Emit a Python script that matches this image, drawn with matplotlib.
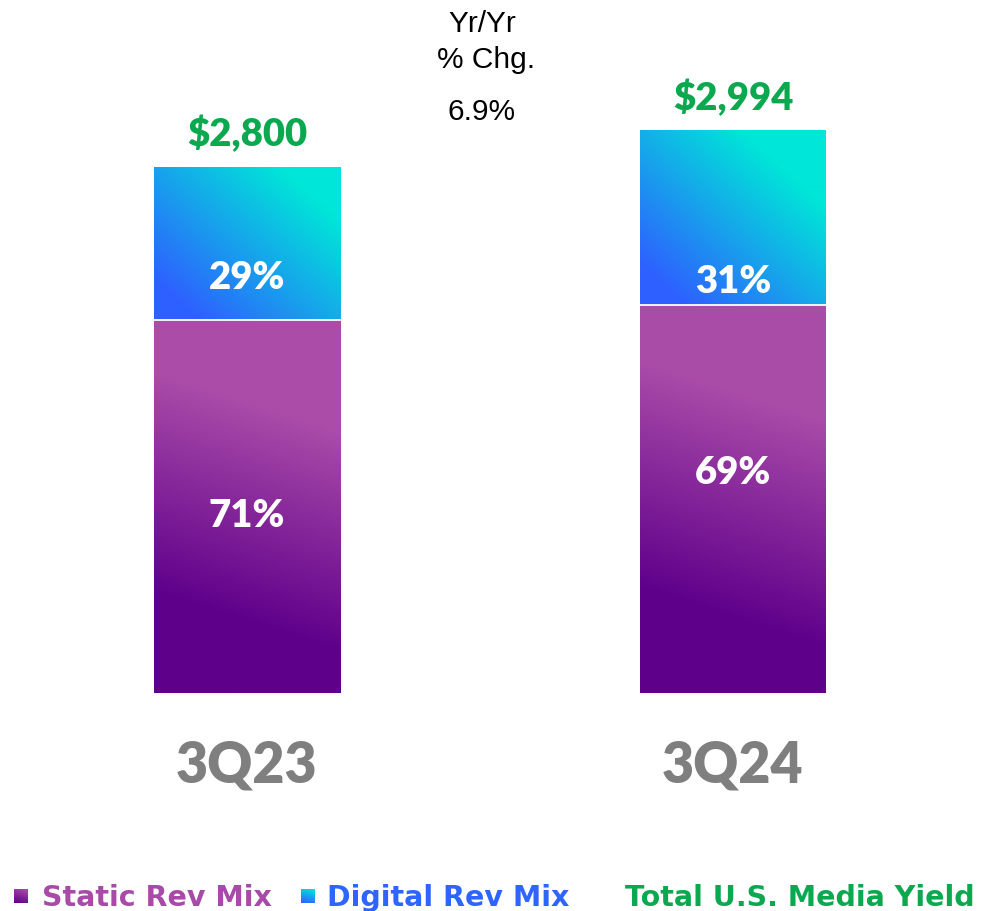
import numpy as np
import matplotlib
matplotlib.use("Agg")
import matplotlib.pyplot as plt
from matplotlib.colors import to_rgb

# ---- data ----
quarters = ["3Q23", "3Q24"]
totals = [2800, 2994]
static_pct = [71, 69]
digital_pct = [29, 31]
yoy_change = 6.9
legend_labels = ["Static Rev Mix", "Digital Rev Mix", "Total U.S. Media Yield"]

# ---- style ----
W, H = 983, 912
BOLD = "Lato"
LEG = "DejaVu Sans"
PURPLE_DARK, PURPLE_LIGHT = "#5f008b", "#aa4ca8"
BLUE, CYAN = "#2e60ff", "#00e6d8"
GREEN = "#0aa84f"
GRAY = "#7f7f7f"
# label anchor fractions within segments (layout only)
static_lbl_frac = [0.447, 0.543]
digital_lbl_frac = [0.21, 0.078]

fig = plt.figure(figsize=(W / 100, H / 100), dpi=100)
base_px = 694
ax = fig.add_axes([0, (H - base_px) / H, 1, base_px / H])
scale = 0.1876  # px per unit
ax.set_xlim(-247 / 486, (W - 247) / 486)
ax.set_ylim(0, base_px / scale)
ax.axis("off")
bar_w = 186 / 486


def grad_img(x0, x1, y0, y1, c0, c1, k, s0, s1, ax_):
    """gradient image in pixel space; s = y_up + k*x."""
    p0 = ax_.transData.transform((x0, y0))
    p1 = ax_.transData.transform((x1, y1))
    wpx = max(int(round(p1[0] - p0[0])), 2)
    hpx = max(int(round(p1[1] - p0[1])), 2)
    xs = np.linspace(0, wpx, wpx)
    ys = np.linspace(0, hpx, hpx)
    X, Y = np.meshgrid(xs, ys)
    s = Y + k * X
    t = np.clip((s - s0) / (s1 - s0), 0, 1)[..., None]
    a = np.array(to_rgb(c0))
    b = np.array(to_rgb(c1))
    img = a * (1 - t) + b * t
    ax_.imshow(img, extent=(x0, x1, y0, y1), origin="lower", aspect="auto",
               interpolation="bilinear", zorder=1)


txt_kw = dict(fontweight=800, family=BOLD, fontstretch="normal")

for i, (tot, sp, dp) in enumerate(zip(totals, static_pct, digital_pct)):
    sh = tot * sp / 100
    dh = tot - sh
    x0, x1 = i - bar_w / 2, i + bar_w / 2
    seg_h_px = sh * scale
    grad_img(x0, x1, 0, sh, PURPLE_DARK, PURPLE_LIGHT, 0.32,
             0.27 * seg_h_px, 0.86 * seg_h_px, ax)
    grad_img(x0, x1, sh, tot, BLUE, CYAN, 0.9, 40, 265, ax)
    ax.plot([x0, x1], [sh, sh], color="white", lw=1.3, zorder=3)
    # labels
    ax.text(i, sh * static_lbl_frac[i], f"{sp}%", ha="center", va="baseline",
            color="white", fontsize=27.5, zorder=4, **txt_kw)
    ax.text(i, sh + dh * digital_lbl_frac[i], f"{dp}%", ha="center", va="baseline",
            color="white", fontsize=27.5, zorder=4, **txt_kw)
    ax.annotate(f"${tot:,}", xy=(i, tot), xytext=(0, 16.2), textcoords="offset points",
                ha="center", va="baseline", color=GREEN, fontsize=27.5,
                annotation_clip=False, **txt_kw)
    ax.annotate(quarters[i], xy=(i, 0), xytext=(0, -64), textcoords="offset points",
                ha="center", va="baseline", color=GRAY, fontsize=40,
                annotation_clip=False, **txt_kw)

ax.set_xlim(-247 / 486, (W - 247) / 486)
ax.set_ylim(0, base_px / scale)


def fy(py):
    return 1 - py / H


# Yr/Yr text
fig.text(482 / W, fy(32), "Yr/Yr", ha="center", va="baseline", fontsize=21.5,
         family="Liberation Sans", color="black")
fig.text(486 / W, fy(68), "% Chg.", ha="center", va="baseline", fontsize=21.5,
         family="Liberation Sans", color="black")
fig.text(482 / W, fy(120), f"{yoy_change}%", ha="center", va="baseline", fontsize=21.5,
         family="Liberation Sans", color="black")

# legend
def legend_square(px, py, size, c0, c1):
    lax = fig.add_axes([px / W, fy(py + size), size / W, size / H])
    n = 20
    X, Y = np.meshgrid(np.linspace(0, 1, n), np.linspace(0, 1, n))
    t = np.clip((Y + 0.3 * X) / 1.3, 0, 1)[..., None]
    img = np.array(to_rgb(c0)) * (1 - t) + np.array(to_rgb(c1)) * t
    lax.imshow(img, origin="lower", aspect="auto", extent=(0, 1, 0, 1))
    lax.axis("off")


legend_square(14, 890, 14, PURPLE_DARK, PURPLE_LIGHT)
legend_square(301, 890, 14, BLUE, CYAN)
leg_kw = dict(ha="left", va="baseline", fontsize=20.5, fontweight="bold", family=LEG)
fig.text(42 / W, fy(906), legend_labels[0], color="#a84aa8", **leg_kw)
fig.text(327 / W, fy(906), legend_labels[1], color="#2e64ff", **leg_kw)
fig.text(625 / W, fy(906), legend_labels[2], color=GREEN, **leg_kw)

fig.savefig("out.png", dpi=100, facecolor="white")
